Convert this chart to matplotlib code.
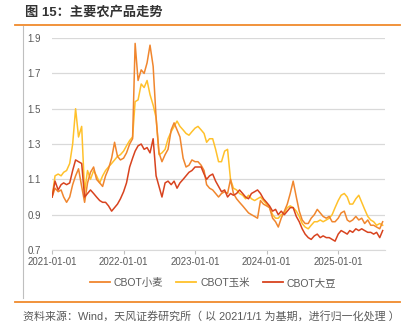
import numpy as np
import pandas as pd
import matplotlib
matplotlib.use("Agg")
import matplotlib.pyplot as plt
import matplotlib.dates as mdates
from matplotlib.lines import Line2D

plt.rcParams['font.family'] = ['Liberation Sans', 'Noto Sans CJK SC', 'DejaVu Sans']

# semi-monthly observations, 2021-01-01 .. 2025-08-16 (normalised, 2021/1/1 = 1)
dates = pd.date_range('2021-01-01', periods=56, freq='MS')
dates = sorted(list(dates) + [d + pd.Timedelta(days=15) for d in dates])

wheat = [1.00, 1.05, 1.03, 1.04, 1.00, 0.97, 1.00, 1.07, 1.12, 1.16,
         1.06, 0.97, 1.08, 1.14, 1.17, 1.10, 1.08, 1.06, 1.12, 1.16,
         1.22, 1.31, 1.23, 1.21, 1.22, 1.25, 1.30, 1.33, 1.87, 1.66,
         1.72, 1.70, 1.76, 1.86, 1.74, 1.45, 1.25, 1.20, 1.24, 1.27,
         1.38, 1.42, 1.38, 1.34, 1.22, 1.17, 1.18, 1.21, 1.20, 1.20,
         1.18, 1.15, 1.07, 1.05, 1.04, 1.02, 1.00, 1.02, 1.03, 1.02,
         1.10, 1.02, 0.99, 0.97, 0.95, 0.93, 0.91, 0.90, 0.89, 0.88,
         0.98, 0.96, 0.95, 0.94, 0.88, 0.86, 0.83, 0.88, 0.92, 0.96,
         1.02, 1.09, 1.00, 0.92, 0.87, 0.85, 0.85, 0.88, 0.90, 0.93,
         0.91, 0.89, 0.88, 0.89, 0.86, 0.86, 0.88, 0.91, 0.92, 0.87,
         0.86, 0.87, 0.89, 0.87, 0.88, 0.85, 0.87, 0.84, 0.84, 0.83,
         0.82, 0.86]

corn = [1.00, 1.12, 1.13, 1.12, 1.14, 1.15, 1.19, 1.30, 1.50, 1.34,
        1.40, 1.03, 1.15, 1.10, 1.15, 1.12, 1.08, 1.12, 1.15, 1.17,
        1.19, 1.21, 1.23, 1.24, 1.26, 1.29, 1.32, 1.34, 1.54, 1.55,
        1.64, 1.62, 1.66, 1.58, 1.52, 1.45, 1.24, 1.25, 1.27, 1.33,
        1.37, 1.40, 1.43, 1.40, 1.38, 1.36, 1.35, 1.37, 1.39, 1.40,
        1.38, 1.36, 1.31, 1.33, 1.33, 1.27, 1.20, 1.20, 1.26, 1.27,
        1.10, 1.05, 1.04, 1.02, 1.01, 0.99, 1.01, 0.99, 0.98, 0.99,
        1.00, 0.98, 0.96, 0.94, 0.90, 0.88, 0.88, 0.90, 0.91, 0.94,
        0.95, 0.94, 0.92, 0.89, 0.85, 0.83, 0.82, 0.84, 0.86, 0.86,
        0.87, 0.86, 0.87, 0.88, 0.90, 0.94, 0.98, 1.01, 1.02, 1.00,
        0.96, 0.96, 0.99, 1.01, 0.97, 0.93, 0.89, 0.87, 0.86, 0.84,
        0.85, 0.84]

soybean = [1.00, 1.09, 1.04, 1.07, 1.08, 1.07, 1.08, 1.15, 1.21, 1.20,
           1.19, 1.00, 1.02, 1.04, 1.02, 1.00, 0.98, 0.97, 0.97, 0.95,
           0.92, 0.94, 0.96, 0.99, 1.03, 1.08, 1.17, 1.22, 1.26, 1.29,
           1.30, 1.27, 1.28, 1.25, 1.33, 1.12, 1.06, 1.00, 1.08, 1.09,
           1.07, 1.09, 1.05, 1.08, 1.10, 1.12, 1.14, 1.15, 1.17, 1.17,
           1.17, 1.13, 1.10, 1.12, 1.13, 1.09, 1.06, 1.03, 1.04, 1.00,
           1.02, 1.01, 1.02, 1.04, 1.02, 1.00, 0.99, 1.02, 1.03, 1.04,
           1.02, 0.99, 0.97, 0.95, 0.92, 0.93, 0.90, 0.92, 0.90, 0.92,
           0.94, 0.94, 0.89, 0.86, 0.82, 0.79, 0.77, 0.76, 0.78, 0.79,
           0.77, 0.78, 0.77, 0.77, 0.76, 0.75, 0.79, 0.81, 0.80, 0.79,
           0.81, 0.80, 0.82, 0.81, 0.82, 0.81, 0.80, 0.80, 0.79, 0.80,
           0.77, 0.81]

labels = ['CBOT小麦', 'CBOT玉米', 'CBOT大豆']
colors = ['#F0862E', '#FFC12B', '#D8431F']
yticks = [0.7, 0.9, 1.1, 1.3, 1.5, 1.7, 1.9]
xticks = pd.to_datetime(['2021-01-01', '2022-01-01', '2023-01-01', '2024-01-01', '2025-01-01'])

fig = plt.figure(figsize=(4.07, 3.25), dpi=100)
ax = fig.add_axes([0.128, 0.2308, 0.818, 0.652])

ax.plot(dates, corn, color=colors[1], lw=1.1, zorder=3)
ax.plot(dates, wheat, color=colors[0], lw=1.1, zorder=4)
ax.plot(dates, soybean, color=colors[2], lw=1.1, zorder=5)

ax.set_ylim(0.7, 1.9)
ax.set_yticks(yticks)
ax.set_yticklabels([f'{v:.1f}' for v in yticks])
ax.set_xlim(pd.Timestamp('2021-01-01'), pd.Timestamp('2025-08-28'))
ax.set_xticks(xticks)
ax.xaxis.set_major_formatter(mdates.DateFormatter('%Y-%m-%d'))

ax.grid(axis='y', color='#D9D9D9', lw=0.9)
for s in ['top', 'right', 'left']:
    ax.spines[s].set_visible(False)
ax.spines['bottom'].set_color('#D9D9D9')
ax.tick_params(axis='y', length=0, pad=8, labelsize=7, labelcolor='#595959')
ax.tick_params(axis='x', length=3, color='#BFBFBF', pad=2, labelsize=7, labelcolor='#595959')

handles = [Line2D([], [], color=c, lw=1.3) for c in colors]
fig.legend(handles, labels, loc='center', bbox_to_anchor=(213 / 407, 1 - 283 / 325),
           ncol=3, frameon=False, fontsize=7.5, handlelength=1.9, columnspacing=1.25,
           handletextpad=0.4, labelcolor='#595959')

# frame decorations of the report page
fig.add_artist(Line2D([15 / 407, 400 / 407], [1 - 25 / 325] * 2, color='#F08A2C', lw=1.3))
fig.add_artist(Line2D([15 / 407, 400 / 407], [1 - 302 / 325] * 2, color='#F08A2C', lw=1.3))
fig.add_artist(Line2D([23 / 407] * 2, [1 - 26 / 325, 1 - 298 / 325], color='#BFBFBF', lw=0.8))

fig.text(25 / 407, 1 - 12 / 325, '图 15：主要农产品走势', fontsize=9.5, fontweight='bold',
         color='#333333', va='center', ha='left')
fig.text(23 / 407, 1 - 317 / 325, '资料来源：Wind，天风证券研究所（ 以 2021/1/1 为基期，进行归一化处理 ）',
         fontsize=7.9, color='#595959', va='center', ha='left')

fig.savefig('out.png', dpi=100)
